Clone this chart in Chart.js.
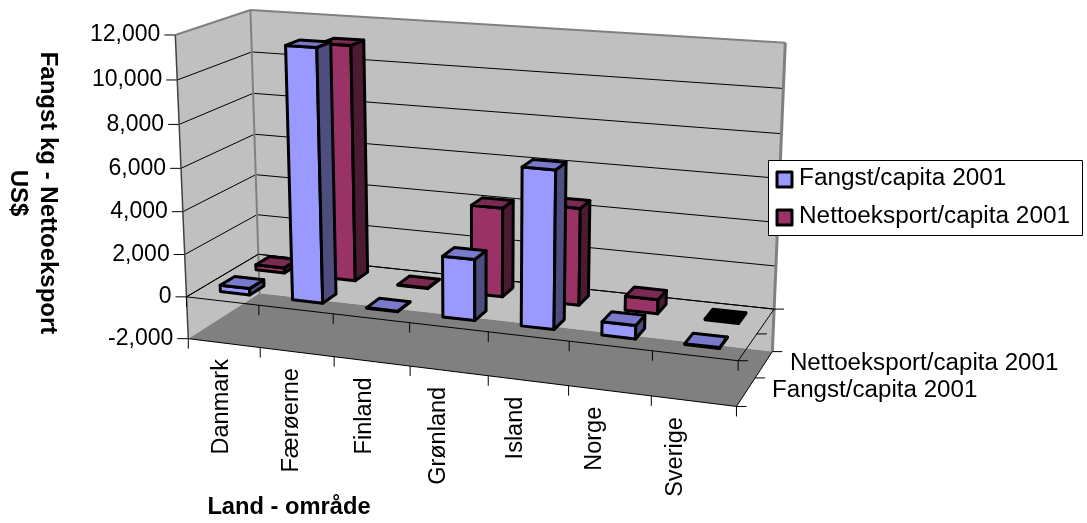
<!DOCTYPE html>
<html>
<head>
<meta charset="utf-8">
<script src="https://cdn.jsdelivr.net/npm/chart.js@4"></script>
<style>
html, body { margin: 0; padding: 0; background: #fff; }
canvas { display: block; }
</style>
</head>
<body>
<canvas id="fishChart" width="1087" height="523"></canvas>
<script>
const categories = ["Danmark", "Færøerne", "Finland", "Grønland", "Island", "Norge", "Sverige"]
const fangst = [300, 11620, 30, 2780, 7080, 600, 40]
const nettoeksport = [250, 11100, 30, 4160, 4480, 650, -40]
const seriesNames = ["Fangst/capita 2001", "Nettoeksport/capita 2001"]
const valueTicks = [-2000, 0, 2000, 4000, 6000, 8000, 10000, 12000]
const yTitle = ["Fangst kg - Nettoeksport", "US$"]
const xTitle = "Land - område"

const FONT = '"Liberation Sans", Arial, sans-serif'

// the corners and ticks of the box as seen in the picture: [u, v, w, x, y]
// u = along categories, v = along values, w = along series (0 front, 1 back)
const anchors = [
    [0, 0, 0, 188, 338], [1, 0, 0, 737, 406], [0, 0, 1, 260, 293], [1, 0, 1, 772, 351],
    [0, 1, 0, 176, 34], [0, 1, 1, 250, 10], [1, 1, 1, 785, 43],
    [0, 1/7, 0, 187, 297], [1, 1/7, 0, 738, 360], [0, 1/7, 1, 258, 255], [1, 1/7, 1, 775, 309],
    [1/7, 0, 0, 260, 347], [2/7, 0, 0, 334, 356], [3/7, 0, 0, 410, 366],
    [4/7, 0, 0, 488, 375], [5/7, 0, 0, 568, 386], [6/7, 0, 0, 652, 396],
    [1/7, 1/7, 0, 259, 306], [2/7, 1/7, 0, 333, 315], [3/7, 1/7, 0, 410, 323],
    [4/7, 1/7, 0, 488, 333], [5/7, 1/7, 0, 569, 342], [6/7, 1/7, 0, 652, 351]
]

/**
 * Least squares fit of a projective camera to the anchor points.
 */
function fitCamera (pts) {
    let n = 11, A = [], b = new Array(n).fill(0)
    for (let i = 0; i < n; i++) A.push(new Array(n).fill(0))
    pts.forEach(([u, v, w, x, y]) => {
        let rows = [
            [[u, v, w, 1, 0, 0, 0, 0, -x*u, -x*v, -x*w], x],
            [[0, 0, 0, 0, u, v, w, 1, -y*u, -y*v, -y*w], y]
        ]
        rows.forEach(([r, t]) => {
            for (let i = 0; i < n; i++) {
                b[i] += r[i] * t
                for (let j = 0; j < n; j++) A[i][j] += r[i] * r[j]
            }
        })
    })
    for (let c = 0; c < n; c++) {
        let p = c
        for (let r = c + 1; r < n; r++) if (Math.abs(A[r][c]) > Math.abs(A[p][c])) p = r
        ;[A[c], A[p]] = [A[p], A[c]]
        ;[b[c], b[p]] = [b[p], b[c]]
        for (let r = 0; r < n; r++) {
            if (r === c) continue
            let f = A[r][c] / A[c][c]
            for (let k = c; k < n; k++) A[r][k] -= f * A[c][k]
            b[r] -= f * b[c]
        }
    }
    return b.map((val, i) => val / A[i][i])
}

const cam = fitCamera(anchors)

function project (u, v, w) {
    let d = cam[8]*u + cam[9]*v + cam[10]*w + 1
    return [(cam[0]*u + cam[1]*v + cam[2]*w + cam[3]) / d, (cam[4]*u + cam[5]*v + cam[6]*w + cam[7]) / d]
}

function poly (ctx, pts, fill, stroke, lw) {
    ctx.beginPath()
    pts.forEach((p, i) => i ? ctx.lineTo(p[0], p[1]) : ctx.moveTo(p[0], p[1]))
    ctx.closePath()
    if (fill) { ctx.fillStyle = fill; ctx.fill() }
    if (stroke) { ctx.strokeStyle = stroke; ctx.lineWidth = lw; ctx.lineJoin = "round"; ctx.stroke() }
}

function line (ctx, a, b, color, lw) {
    ctx.beginPath()
    ctx.moveTo(a[0], a[1])
    ctx.lineTo(b[0], b[1])
    ctx.strokeStyle = color
    ctx.lineWidth = lw
    ctx.stroke()
}

// stretch widens the text along its own direction
function text (ctx, str, x, y, font, align, rot, stretch) {
    ctx.save()
    ctx.translate(x, y)
    ctx.rotate(rot || 0)
    ctx.scale(stretch || 1, 1)
    ctx.font = font
    ctx.fillStyle = "#000"
    ctx.textAlign = align
    ctx.textBaseline = "middle"
    ctx.fillText(str, 0, 0)
    ctx.restore()
}

// box walls, grid lines and ticks, behind the bars
const boxPlugin = {
    id: "box",
    beforeDatasetsDraw (chart) {
        let ctx = chart.ctx, yS = chart.scales.y, xS = chart.scales.x, area = chart.chartArea
        let vOf = (val) => (area.bottom - yS.getPixelForValue(val)) / area.height
        let lo = vOf(valueTicks[0]), hi = vOf(valueTicks[valueTicks.length - 1]), zero = vOf(0)
        let n = categories.length

        poly(ctx, [project(0,lo,0), project(0,hi,0), project(0,hi,1), project(0,lo,1)], "#c0c0c0")
        poly(ctx, [project(0,lo,1), project(0,hi,1), project(1,hi,1), project(1,lo,1)], "#c0c0c0")
        poly(ctx, [project(0,lo,0), project(1,lo,0), project(1,lo,1), project(0,lo,1)], "#808080")

        valueTicks.forEach((val) => {
            let v = vOf(val)
            if (val !== valueTicks[0] && val !== 12000) {
                line(ctx, project(0,v,0), project(0,v,1), "#000", 1)
                line(ctx, project(0,v,1), project(1,v,1), "#000", 1)
            }
            let p = project(0, v, 0)
            line(ctx, [p[0] - 11, p[1]], p, "#000", 1)
            text(ctx, val.toLocaleString("en-US"), p[0] - 15, p[1], "23px " + FONT, "right")
        })

        // wall edges
        line(ctx, project(0,hi,0), project(0,hi,1), "#808080", 2)
        line(ctx, project(0,hi,1), project(1,hi,1), "#808080", 2)
        line(ctx, project(0,hi,1), project(0,lo,1), "#808080", 2)
        line(ctx, project(1,hi,1), project(1,lo,1), "#808080", 3)
        line(ctx, project(0,hi,0), project(0,lo,0), "#404040", 1.5)

        // outline of the zero plane and the floor, with their ticks
        ;[lo, zero].forEach((v) => {
            line(ctx, project(0,v,0), project(1,v,0), "#000", 1)
            line(ctx, project(1,v,0), project(1,v,1), "#000", 1)
            for (let i = 0; i <= n; i++) {
                let u = (xS.getPixelForValue(i - 0.5) - area.left) / area.width
                let p = project(u, v, 0)
                line(ctx, p, [p[0], p[1] + 10], "#000", 1)
            }
            for (let k = 0; k <= seriesNames.length; k++) {
                let p = project(1, v, k / seriesNames.length)
                line(ctx, p, [p[0] + 10, p[1]], "#000", 1)
            }
        })
        line(ctx, project(0,zero,0), project(0,zero,1), "#000", 1)
        line(ctx, project(0,zero,1), project(1,zero,1), "#000", 1)

        // category labels
        categories.forEach((name, i) => {
            let u = (xS.getPixelForValue(i) - area.left) / area.width
            let p = project(u, lo, 0)
            text(ctx, name, 221 + (p[0] - 224) * 0.968, p[1] + 16, "23.5px " + FONT, "right", -Math.PI / 2)
        })

        // depth labels
        seriesNames.forEach((name, k) => {
            let p = project(1, lo, (k + 0.5) / seriesNames.length)
            text(ctx, name, p[0] + 26, p[1] - 1, "23px " + FONT, "left", 0, 1.05)
        })

        // axis titles
        text(ctx, yTitle[0], 48, 193, "bold 24px " + FONT, "center", Math.PI / 2)
        text(ctx, yTitle[1], 18, 193, "bold 24px " + FONT, "center", Math.PI / 2)
        text(ctx, xTitle, 289, 508, "bold 23px " + FONT, "center", 0, 1.03)
    }
}

// each bar gets drawn as a box, back series first
const barsPlugin = {
    id: "bars3d",
    afterDatasetsDraw (chart) {
        let ctx = chart.ctx, area = chart.chartArea
        let styles = [
            { front: "#9999ff", side: "#4d4d80", top: "#7a7acc" },
            { front: "#993366", side: "#4d1a33", top: "#7a2952" }
        ]
        for (let s = seriesNames.length - 1; s >= 0; s--) {
            let meta = chart.getDatasetMeta(s)
            meta.data.forEach((bar) => {
                let u0 = (bar.x - bar.width / 2 - area.left) / area.width
                let u1 = (bar.x + bar.width / 2 - area.left) / area.width
                let vTop = (area.bottom - bar.y) / area.height
                let vBase = (area.bottom - bar.base) / area.height
                let w0 = (s + 0.34) / seriesNames.length
                let w1 = (s + 0.74) / seriesNames.length
                let negative = vTop < vBase
                let top = Math.max(vTop, vBase), base = Math.min(vTop, vBase)
                let st = styles[s]
                poly(ctx, [project(u0,base,w0), project(u1,base,w0), project(u1,top,w0), project(u0,top,w0)], st.front, "#000", 3)
                poly(ctx, [project(u1,base,w0), project(u1,base,w1), project(u1,top,w1), project(u1,top,w0)], st.side, "#000", 3)
                poly(ctx, [project(u0,top,w0), project(u1,top,w0), project(u1,top,w1), project(u0,top,w1)], negative ? "#000" : st.top, "#000", 3)
            })
        }

        // legend
        ctx.save()
        ctx.fillStyle = "#fff"
        ctx.fillRect(768.5, 160.5, 314, 75)
        ctx.strokeStyle = "#000"
        ctx.lineWidth = 1
        ctx.strokeRect(768.5, 160.5, 314, 75)
        ctx.restore()
        seriesNames.forEach((name, k) => {
            let y = 179 + k * 38
            poly(ctx, [[777, y - 7], [792, y - 7], [792, y + 8], [777, y + 8]], styles[k].front, "#000", 3)
            text(ctx, name, 799, y, "23px " + FONT, "left", 0, 1.06)
        })
    }
}

new Chart(document.getElementById("fishChart"), {
    type: "bar",
    data: {
        labels: categories,
        datasets: [
            { label: seriesNames[0], data: fangst, backgroundColor: "rgba(0,0,0,0)", grouped: false },
            { label: seriesNames[1], data: nettoeksport, backgroundColor: "rgba(0,0,0,0)", grouped: false }
        ]
    },
    options: {
        responsive: false,
        animation: false,
        devicePixelRatio: 1,
        layout: { padding: { left: 188, right: 350, top: 34, bottom: 185 } },
        datasets: { bar: { barPercentage: 0.41, categoryPercentage: 1 } },
        plugins: { legend: { display: false }, tooltip: { enabled: false } },
        scales: {
            x: { display: false },
            y: { display: false, min: -2000, max: 12000 }
        }
    },
    plugins: [boxPlugin, barsPlugin]
})
</script>
</body>
</html>
